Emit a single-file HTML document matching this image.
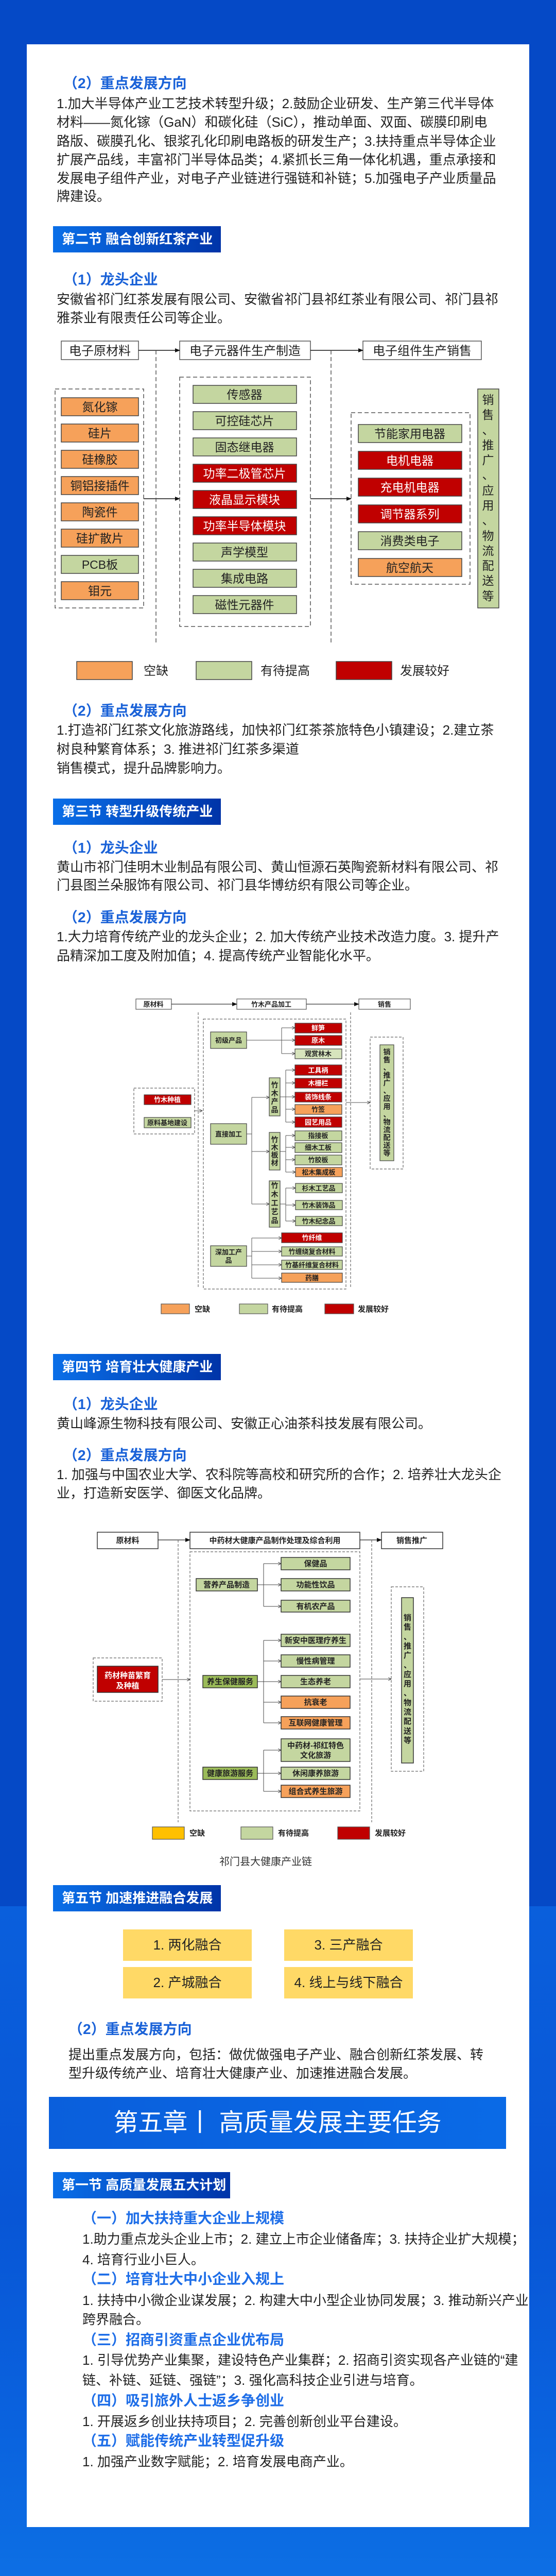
<!DOCTYPE html>
<html><head><meta charset="utf-8">
<style>
*{margin:0;padding:0;box-sizing:border-box}
html,body{width:1080px;height:5003px;overflow:hidden}
body{position:relative;font-family:"Liberation Sans","Noto Sans CJK SC",sans-serif;
background:linear-gradient(180deg,#0549c6 0,#0549c6 3700px,#0a5fdc 3700px,#0856d6 4300px,#0a62de 4700px,#0d6fe4 5003px);}
.card{position:absolute;left:52px;top:86px;width:976px;height:4819px;background:#fff}
.t{position:absolute;font-size:26px;line-height:36px;color:#222;white-space:nowrap}
.h{position:absolute;font-size:28px;line-height:36px;color:#1a62d8;font-weight:bold;white-space:nowrap}
.s{position:absolute;height:51px;background:linear-gradient(90deg,#0a6fe8,#0034a8);color:#fff;font-weight:bold;font-size:26px;line-height:51px;padding-left:17px;white-space:nowrap}
.y{position:absolute;width:250px;height:61px;background:#ffd966;font-size:26px;line-height:61px;text-align:center;color:#222}
svg{position:absolute;left:0;top:0;display:block;overflow:hidden}
svg text{font-family:"Liberation Sans","Noto Sans CJK SC",sans-serif}
</style></head><body>
<div class="card"></div>

<div class="h" style="left:123px;top:144px">（2）重点发展方向</div>
<div class="t" style="left:110px;top:183px">1.加大半导体产业工艺技术转型升级；2.鼓励企业研发、生产第三代半导体</div>
<div class="t" style="left:110px;top:219px">材料——氮化镓（GaN）和碳化硅（SiC），推动单面、双面、碳膜印刷电</div>
<div class="t" style="left:110px;top:256px">路版、碳膜孔化、银浆孔化印刷电路板的研发生产；3.扶持重点半导体企业</div>
<div class="t" style="left:110px;top:292px">扩展产品线，丰富祁门半导体品类；4.紧抓长三角一体化机遇，重点承接和</div>
<div class="t" style="left:110px;top:328px">发展电子组件产业，对电子产业链进行强链和补链；5.加强电子产业质量品</div>
<div class="t" style="left:110px;top:363px">牌建设。</div>

<div class="s" style="left:103px;top:439px;width:326px">第二节 融合创新红茶产业</div>
<div class="h" style="left:123px;top:525px">（1）龙头企业</div>
<div class="t" style="left:110px;top:563px">安徽省祁门红茶发展有限公司、安徽省祁门县祁红茶业有限公司、祁门县祁</div>
<div class="t" style="left:110px;top:599px">雅茶业有限责任公司等企业。</div>

<div class="h" style="left:123px;top:1362px">（2）重点发展方向</div>
<div class="t" style="left:110px;top:1399px">1.打造祁门红茶文化旅游路线，加快祁门红茶茶旅特色小镇建设；2.建立茶</div>
<div class="t" style="left:110px;top:1436px">树良种繁育体系；3. 推进祁门红茶多渠道</div>
<div class="t" style="left:110px;top:1473px">销售模式，提升品牌影响力。</div>

<div class="s" style="left:103px;top:1550px;width:326px">第三节 转型升级传统产业</div>
<div class="h" style="left:123px;top:1628px">（1）龙头企业</div>
<div class="t" style="left:110px;top:1665px">黄山市祁门佳明木业制品有限公司、黄山恒源石英陶瓷新材料有限公司、祁</div>
<div class="t" style="left:110px;top:1700px">门县图兰朵服饰有限公司、祁门县华博纺织有限公司等企业。</div>
<div class="h" style="left:123px;top:1763px">（2）重点发展方向</div>
<div class="t" style="left:110px;top:1800px">1.大力培育传统产业的龙头企业；2. 加大传统产业技术改造力度。3. 提升产</div>
<div class="t" style="left:110px;top:1837px">品精深加工度及附加值；4. 提高传统产业智能化水平。</div>

<div class="s" style="left:103px;top:2628px;width:326px">第四节 培育壮大健康产业</div>
<div class="h" style="left:123px;top:2708px">（1）龙头企业</div>
<div class="t" style="left:110px;top:2745px">黄山峰源生物科技有限公司、安徽正心油茶科技发展有限公司。</div>
<div class="h" style="left:123px;top:2807px">（2）重点发展方向</div>
<div class="t" style="left:110px;top:2844px">1. 加强与中国农业大学、农科院等高校和研究所的合作；2. 培养壮大龙头企</div>
<div class="t" style="left:110px;top:2880px">业，打造新安医学、御医文化品牌。</div>

<div style="position:absolute;left:0;width:1032px;top:3600px;text-align:center;font-size:20px;line-height:28px;color:#333">祁门县大健康产业链</div>

<div class="s" style="left:103px;top:3659px;width:326px">第五节 加速推进融合发展</div>
<div class="y" style="left:239px;top:3745px">1. 两化融合</div>
<div class="y" style="left:552px;top:3745px">3. 三产融合</div>
<div class="y" style="left:239px;top:3818px">2. 产城融合</div>
<div class="y" style="left:552px;top:3818px">4. 线上与线下融合</div>
<div class="h" style="left:133px;top:3921px">（2）重点发展方向</div>
<div class="t" style="left:133px;top:3970px">提出重点发展方向，包括：做优做强电子产业、融合创新红茶发展、转</div>
<div class="t" style="left:133px;top:4006px">型升级传统产业、培育壮大健康产业、加速推进融合发展。</div>

<div style="position:absolute;left:95px;top:4070px;width:888px;height:101px;background:linear-gradient(90deg,#0a5fdc,#0a6ae6);color:#fff;font-size:48px;line-height:101px;text-align:center;white-space:nowrap">第五章丨 高质量发展主要任务</div>
<div class="s" style="left:103px;top:4216px;width:344px">第一节 高质量发展五大计划</div>
<div class="h" style="left:160px;top:4288px;color:#1e6ee8">（一）加大扶持重大企业上规模</div>
<div class="t" style="left:160px;top:4328px">1.助力重点龙头企业上市；2. 建立上市企业储备库；3. 扶持企业扩大规模；</div>
<div class="t" style="left:160px;top:4368px">4. 培育行业小巨人。</div>
<div class="h" style="left:160px;top:4406px;color:#1e6ee8">（二）培育壮大中小企业入规上</div>
<div class="t" style="left:160px;top:4447px">1. 扶持中小微企业谋发展；2. 构建大中小型企业协同发展；3. 推动新兴产业</div>
<div class="t" style="left:160px;top:4484px">跨界融合。</div>
<div class="h" style="left:160px;top:4524px;color:#1e6ee8">（三）招商引资重点企业优布局</div>
<div class="t" style="left:160px;top:4563px">1. 引导优势产业集聚，建设特色产业集群；2. 招商引资实现各产业链的“建</div>
<div class="t" style="left:160px;top:4602px">链、补链、延链、强链”；3. 强化高科技企业引进与培育。</div>
<div class="h" style="left:160px;top:4642px;color:#1e6ee8">（四）吸引旅外人士返乡争创业</div>
<div class="t" style="left:160px;top:4682px">1. 开展返乡创业扶持项目；2. 完善创新创业平台建设。</div>
<div class="h" style="left:160px;top:4720px;color:#1e6ee8">（五）赋能传统产业转型促升级</div>
<div class="t" style="left:160px;top:4760px">1. 加强产业数字赋能；2. 培育发展电商产业。</div>

<svg width="1080" height="5000" viewBox="0 0 1080 5000">
<defs>
<marker id="a" markerWidth="10" markerHeight="8" refX="9" refY="4" orient="auto" markerUnits="userSpaceOnUse"><path d="M0,0 L10,4 L0,8 z" fill="#111"/></marker>
<marker id="b" markerWidth="7" markerHeight="6" refX="6" refY="3" orient="auto" markerUnits="userSpaceOnUse"><path d="M0,0 L6,3 L0,6" fill="none" stroke="#444" stroke-width="1"/></marker>
</defs>

<!-- ===== Diagram 1 ===== -->
<g stroke="#555" stroke-width="1.5">
<rect x="119" y="662" width="150" height="36" fill="#fff"/>
<rect x="349" y="662" width="254" height="36" fill="#fff"/>
<rect x="705" y="662" width="230" height="36" fill="#fff"/>
</g>
<g font-size="24" text-anchor="middle" fill="#222">
<text x="194" y="689">电子原材料</text>
<text x="476" y="689">电子元器件生产制造</text>
<text x="820" y="689">电子组件生产销售</text>
</g>
<g stroke="#111" stroke-width="1.5" fill="none">
<line x1="269" y1="680" x2="349" y2="680" marker-end="url(#a)"/>
<line x1="603" y1="680" x2="705" y2="680" marker-end="url(#a)"/>
<line x1="279" y1="968" x2="349" y2="968" marker-end="url(#a)"/>
<line x1="603" y1="968" x2="682" y2="968" marker-end="url(#a)"/>
</g>
<g stroke="#555" stroke-width="1.5" fill="none" stroke-dasharray="8,5">
<line x1="303" y1="680" x2="303" y2="1249"/>
<line x1="643" y1="680" x2="643" y2="1249"/>
<rect x="107" y="755" width="172" height="425"/>
<rect x="349" y="732" width="254" height="484"/>
<rect x="682" y="801" width="231" height="333"/>
</g>
<g stroke="#444" stroke-width="1.5">
<rect x="119" y="772" width="150" height="35" fill="#f6a15a"/>
<rect x="119" y="823" width="150" height="35" fill="#f6a15a"/>
<rect x="119" y="874" width="150" height="35" fill="#f6a15a"/>
<rect x="119" y="925" width="150" height="35" fill="#f6a15a"/>
<rect x="119" y="976" width="150" height="35" fill="#f6a15a"/>
<rect x="119" y="1027" width="150" height="35" fill="#f6a15a"/>
<rect x="119" y="1078" width="150" height="35" fill="#c4d6a0"/>
<rect x="119" y="1129" width="150" height="35" fill="#f6a15a"/>

<rect x="375" y="748" width="201" height="35" fill="#c4d6a0"/>
<rect x="375" y="799" width="201" height="35" fill="#c4d6a0"/>
<rect x="375" y="850" width="201" height="35" fill="#c4d6a0"/>
<rect x="375" y="901" width="201" height="35" fill="#c00000"/>
<rect x="375" y="952" width="201" height="35" fill="#c00000"/>
<rect x="375" y="1003" width="201" height="35" fill="#c00000"/>
<rect x="375" y="1054" width="201" height="35" fill="#c4d6a0"/>
<rect x="375" y="1105" width="201" height="35" fill="#c4d6a0"/>
<rect x="375" y="1156" width="201" height="35" fill="#c4d6a0"/>

<rect x="696" y="824" width="201" height="35" fill="#c4d6a0"/>
<rect x="696" y="876" width="201" height="35" fill="#c00000"/>
<rect x="696" y="928" width="201" height="35" fill="#c00000"/>
<rect x="696" y="980" width="201" height="35" fill="#c00000"/>
<rect x="696" y="1032" width="201" height="35" fill="#c4d6a0"/>
<rect x="696" y="1084" width="201" height="35" fill="#f6a15a"/>

<rect x="928" y="755" width="41" height="425" fill="#c4d6a0"/>
</g>
<g font-size="23" text-anchor="middle" fill="#222">
<text x="194" y="798">氮化镓</text>
<text x="194" y="849">硅片</text>
<text x="194" y="900">硅橡胶</text>
<text x="194" y="951">铜铝接插件</text>
<text x="194" y="1002">陶瓷件</text>
<text x="194" y="1053">硅扩散片</text>
<text x="194" y="1104">PCB板</text>
<text x="194" y="1155">钼元</text>
<text x="475" y="774">传感器</text>
<text x="475" y="825">可控硅芯片</text>
<text x="475" y="876">固态继电器</text>
<text x="475" y="927" fill="#fff">功率二极管芯片</text>
<text x="475" y="978" fill="#fff">液晶显示模块</text>
<text x="475" y="1029" fill="#fff">功率半导体模块</text>
<text x="475" y="1080">声学模型</text>
<text x="475" y="1131">集成电路</text>
<text x="475" y="1182">磁性元器件</text>
<text x="796" y="850">节能家用电器</text>
<text x="796" y="902" fill="#fff">电机电器</text>
<text x="796" y="954" fill="#fff">充电机电器</text>
<text x="796" y="1006" fill="#fff">调节器系列</text>
<text x="796" y="1058">消费类电子</text>
<text x="796" y="1110">航空航天</text>
</g>
<g font-size="23" text-anchor="middle" fill="#222">
<text x="948" y="784">销</text><text x="948" y="813">售</text><text x="948" y="843">、</text><text x="948" y="872">推</text><text x="948" y="901">广</text><text x="948" y="930">、</text><text x="948" y="960">应</text><text x="948" y="989">用</text><text x="948" y="1018">、</text><text x="948" y="1048">物</text><text x="948" y="1077">流</text><text x="948" y="1106">配</text><text x="948" y="1135">送</text><text x="948" y="1165">等</text>
</g>
<g stroke="#444" stroke-width="1.5">
<rect x="149" y="1284" width="108" height="35" fill="#f6a15a"/>
<rect x="381" y="1284" width="108" height="35" fill="#c4d6a0"/>
<rect x="653" y="1284" width="108" height="35" fill="#c00000"/>
</g>
<g font-size="24" fill="#222">
<text x="279" y="1310">空缺</text><text x="506" y="1310">有待提高</text><text x="777" y="1310">发展较好</text>
</g>

<!-- ===== Diagram 2 ===== -->
<g stroke="#555" stroke-width="1.2" fill="#fff">
<rect x="264" y="1939" width="69" height="20"/>
<rect x="460" y="1939" width="135" height="20"/>
<rect x="697" y="1939" width="100" height="20"/>
</g>
<g font-size="13" font-weight="bold" text-anchor="middle" fill="#222">
<text x="298" y="1954">原材料</text><text x="527" y="1954">竹木产品加工</text><text x="747" y="1954">销售</text>
</g>
<g stroke="#333" stroke-width="1.2" fill="none">
<line x1="333" y1="1949" x2="460" y2="1949" marker-end="url(#a)"/>
<line x1="595" y1="1949" x2="697" y2="1949" marker-end="url(#a)"/>
</g>
<g stroke="#666" stroke-width="1.2" fill="none" stroke-dasharray="5,3">
<line x1="385" y1="1965" x2="385" y2="2499"/>
<line x1="681" y1="1965" x2="681" y2="2499"/>
<rect x="395" y="1978" width="277" height="524"/>
<rect x="260" y="2112" width="118" height="89"/>
<rect x="719" y="2013" width="64" height="256"/>
</g>
<g stroke="#555" stroke-width="1" fill="none">
<line x1="378" y1="2156" x2="393" y2="2156" marker-end="url(#b)"/>
<line x1="672" y1="2140" x2="719" y2="2140" marker-end="url(#b)"/>
<line x1="479" y1="2019" x2="547" y2="2019"/>
<line x1="547" y1="1995" x2="547" y2="2045"/>
<line x1="547" y1="1995" x2="573" y2="1995" marker-end="url(#b)"/>
<line x1="547" y1="2019" x2="573" y2="2019" marker-end="url(#b)"/>
<line x1="547" y1="2045" x2="573" y2="2045" marker-end="url(#b)"/>
<line x1="479" y1="2201" x2="489" y2="2201"/>
<line x1="489" y1="2130" x2="489" y2="2337"/>
<line x1="489" y1="2130" x2="523" y2="2130" marker-end="url(#b)"/>
<line x1="489" y1="2235" x2="523" y2="2235" marker-end="url(#b)"/>
<line x1="489" y1="2337" x2="523" y2="2337" marker-end="url(#b)"/>
<line x1="544" y1="2129" x2="555" y2="2129"/>
<line x1="555" y1="2077" x2="555" y2="2178"/>
<line x1="555" y1="2077" x2="573" y2="2077" marker-end="url(#b)"/>
<line x1="555" y1="2102" x2="573" y2="2102" marker-end="url(#b)"/>
<line x1="555" y1="2129" x2="573" y2="2129" marker-end="url(#b)"/>
<line x1="555" y1="2153" x2="573" y2="2153" marker-end="url(#b)"/>
<line x1="555" y1="2178" x2="573" y2="2178" marker-end="url(#b)"/>
<line x1="544" y1="2235" x2="555" y2="2235"/>
<line x1="555" y1="2204" x2="555" y2="2275"/>
<line x1="555" y1="2204" x2="573" y2="2204" marker-end="url(#b)"/>
<line x1="555" y1="2227" x2="573" y2="2227" marker-end="url(#b)"/>
<line x1="555" y1="2251" x2="573" y2="2251" marker-end="url(#b)"/>
<line x1="555" y1="2275" x2="574" y2="2275" marker-end="url(#b)"/>
<line x1="544" y1="2337" x2="555" y2="2337"/>
<line x1="555" y1="2306" x2="555" y2="2370"/>
<line x1="555" y1="2306" x2="574" y2="2306" marker-end="url(#b)"/>
<line x1="555" y1="2339" x2="574" y2="2339" marker-end="url(#b)"/>
<line x1="555" y1="2370" x2="574" y2="2370" marker-end="url(#b)"/>
<line x1="479" y1="2438" x2="489" y2="2438"/>
<line x1="489" y1="2403" x2="489" y2="2481"/>
<line x1="489" y1="2403" x2="547" y2="2403" marker-end="url(#b)"/>
<line x1="489" y1="2429" x2="547" y2="2429" marker-end="url(#b)"/>
<line x1="489" y1="2455" x2="547" y2="2455" marker-end="url(#b)"/>
<line x1="489" y1="2481" x2="547" y2="2481" marker-end="url(#b)"/>
</g>
<g stroke="#444" stroke-width="1.2">
<rect x="409" y="2003" width="70" height="32" fill="#c4d6a0"/>
<rect x="409" y="2181" width="70" height="40" fill="#c4d6a0"/>
<rect x="409" y="2418" width="70" height="40" fill="#c4d6a0"/>
<rect x="523" y="2092" width="21" height="74" fill="#c4d6a0"/>
<rect x="523" y="2198" width="21" height="73" fill="#c4d6a0"/>
<rect x="523" y="2292" width="21" height="90" fill="#c4d6a0"/>
<rect x="280" y="2125" width="91" height="19" fill="#c00000"/>
<rect x="280" y="2169" width="91" height="20" fill="#c4d6a0"/>
<rect x="738" y="2028" width="27" height="225" fill="#c4d6a0"/>
<rect x="573" y="1986" width="91" height="19" fill="#c00000"/>
<rect x="573" y="2010" width="91" height="19" fill="#c00000"/>
<rect x="573" y="2036" width="91" height="19" fill="#d7e4bd"/>
<rect x="573" y="2067" width="91" height="20" fill="#c00000"/>
<rect x="573" y="2093" width="91" height="19" fill="#c00000"/>
<rect x="573" y="2120" width="91" height="19" fill="#c00000"/>
<rect x="573" y="2144" width="91" height="19" fill="#f6a15a"/>
<rect x="573" y="2168" width="91" height="20" fill="#c00000"/>
<rect x="573" y="2195" width="91" height="19" fill="#c4d6a0"/>
<rect x="573" y="2218" width="91" height="19" fill="#c4d6a0"/>
<rect x="573" y="2242" width="91" height="19" fill="#c4d6a0"/>
<rect x="574" y="2266" width="91" height="18" fill="#f6a15a"/>
<rect x="574" y="2297" width="91" height="18" fill="#c4d6a0"/>
<rect x="574" y="2330" width="91" height="18" fill="#c4d6a0"/>
<rect x="574" y="2361" width="91" height="18" fill="#c4d6a0"/>
<rect x="547" y="2393" width="118" height="19" fill="#c00000"/>
<rect x="547" y="2420" width="118" height="18" fill="#c4d6a0"/>
<rect x="547" y="2446" width="118" height="18" fill="#c4d6a0"/>
<rect x="547" y="2471" width="118" height="18" fill="#f6a15a"/>
</g>
<g font-size="13" font-weight="bold" text-anchor="middle" fill="#222">
<text x="444" y="2024">初级产品</text>
<text x="444" y="2206">直接加工</text>
<text x="444" y="2435">深加工产</text><text x="444" y="2451">品</text>
<text x="325" y="2139" fill="#fff">竹木种植</text>
<text x="325" y="2184">原料基地建设</text>
<text x="618" y="2000" fill="#fff">鲜笋</text>
<text x="618" y="2024" fill="#fff">原木</text>
<text x="618" y="2050">观赏林木</text>
<text x="618" y="2082" fill="#fff">工具柄</text>
<text x="618" y="2107" fill="#fff">木栅栏</text>
<text x="618" y="2134" fill="#fff">装饰线条</text>
<text x="618" y="2158">竹签</text>
<text x="618" y="2183" fill="#fff">园艺用品</text>
<text x="618" y="2209">指接板</text>
<text x="618" y="2232">细木工板</text>
<text x="618" y="2256">竹胶板</text>
<text x="619" y="2280">松木集成板</text>
<text x="619" y="2311">杉木工艺品</text>
<text x="619" y="2344">竹木装饰品</text>
<text x="619" y="2375">竹木纪念品</text>
<text x="606" y="2407" fill="#fff">竹纤维</text>
<text x="606" y="2434">竹缠绕复合材料</text>
<text x="606" y="2460">竹基纤维复合材料</text>
<text x="606" y="2485">药膳</text>
</g>
<g font-size="14" font-weight="bold" text-anchor="middle" fill="#222">
<text x="533.5" y="2111">竹</text><text x="533.5" y="2127">木</text><text x="533.5" y="2143">产</text><text x="533.5" y="2159">品</text>
<text x="533.5" y="2217">竹</text><text x="533.5" y="2232">木</text><text x="533.5" y="2247">板</text><text x="533.5" y="2262">材</text>
<text x="533.5" y="2306">竹</text><text x="533.5" y="2323">木</text><text x="533.5" y="2340">工</text><text x="533.5" y="2357">艺</text><text x="533.5" y="2374">品</text>
<text x="751.5" y="2047">销</text><text x="751.5" y="2062">售</text><text x="751.5" y="2077">、</text><text x="751.5" y="2092">推</text><text x="751.5" y="2107">广</text><text x="751.5" y="2122">、</text><text x="751.5" y="2137">应</text><text x="751.5" y="2153">用</text><text x="751.5" y="2168">、</text><text x="751.5" y="2183">物</text><text x="751.5" y="2198">流</text><text x="751.5" y="2213">配</text><text x="751.5" y="2228">送</text><text x="751.5" y="2243">等</text>
</g>
<g stroke="#555" stroke-width="1.2">
<rect x="313" y="2531" width="55" height="19" fill="#f6a15a"/>
<rect x="465" y="2531" width="55" height="19" fill="#c4d6a0"/>
<rect x="631" y="2531" width="56" height="19" fill="#c00000"/>
</g>
<g font-size="15" font-weight="bold" fill="#222">
<text x="378" y="2546">空缺</text><text x="528" y="2546">有待提高</text><text x="695" y="2546">发展较好</text>
</g>

<!-- ===== Diagram 3 ===== -->
<g stroke="#333" stroke-width="1.5" fill="#fff">
<rect x="189" y="2974" width="118" height="32"/>
<rect x="369" y="2974" width="330" height="32"/>
<rect x="741" y="2974" width="119" height="32"/>
</g>
<g font-size="15" font-weight="bold" text-anchor="middle" fill="#222">
<text x="248" y="2995">原材料</text><text x="534" y="2995">中药材大健康产品制作处理及综合利用</text><text x="800" y="2995">销售推广</text>
</g>
<g stroke="#222" stroke-width="1.2" fill="none">
<line x1="307" y1="2989" x2="369" y2="2989" marker-end="url(#a)"/>
<line x1="699" y1="2989" x2="741" y2="2989" marker-end="url(#a)"/>
</g>
<g stroke="#666" stroke-width="1.2" fill="none" stroke-dasharray="5,3">
<line x1="346" y1="2989" x2="346" y2="3537"/>
<line x1="722" y1="2989" x2="722" y2="3537"/>
<rect x="369" y="3012" width="330" height="503"/>
<rect x="181" y="3218" width="134" height="84"/>
<rect x="760" y="3080" width="63" height="358"/>
</g>
<g stroke="#444" stroke-width="1" fill="none">
<line x1="315" y1="3260" x2="369" y2="3260" marker-end="url(#b)"/>
<line x1="699" y1="3259" x2="760" y2="3259" marker-end="url(#b)"/>
<line x1="500" y1="3076" x2="512" y2="3076"/>
<line x1="512" y1="3035" x2="512" y2="3118"/>
<line x1="512" y1="3035" x2="546" y2="3035" marker-end="url(#b)"/>
<line x1="512" y1="3076" x2="546" y2="3076" marker-end="url(#b)"/>
<line x1="512" y1="3118" x2="546" y2="3118" marker-end="url(#b)"/>
<line x1="500" y1="3264" x2="512" y2="3264"/>
<line x1="512" y1="3184" x2="512" y2="3344"/>
<line x1="512" y1="3184" x2="546" y2="3184" marker-end="url(#b)"/>
<line x1="512" y1="3224" x2="546" y2="3224" marker-end="url(#b)"/>
<line x1="512" y1="3264" x2="546" y2="3264" marker-end="url(#b)"/>
<line x1="512" y1="3304" x2="546" y2="3304" marker-end="url(#b)"/>
<line x1="512" y1="3344" x2="546" y2="3344" marker-end="url(#b)"/>
<line x1="500" y1="3442" x2="512" y2="3442"/>
<line x1="512" y1="3397" x2="512" y2="3477"/>
<line x1="512" y1="3397" x2="546" y2="3397" marker-end="url(#b)"/>
<line x1="512" y1="3442" x2="546" y2="3442" marker-end="url(#b)"/>
<line x1="512" y1="3477" x2="546" y2="3477" marker-end="url(#b)"/>
</g>
<g stroke="#333" stroke-width="1.5">
<rect x="189" y="3234" width="118" height="51" fill="#c00000"/>
<rect x="381" y="3064" width="119" height="24" fill="#c4d6a0"/>
<rect x="394" y="3252" width="106" height="24" fill="#9bbb59"/>
<rect x="394" y="3430" width="106" height="24" fill="#9bbb59"/>
<rect x="546" y="3023" width="134" height="24" fill="#c4d6a0"/>
<rect x="546" y="3064" width="134" height="24" fill="#c4d6a0"/>
<rect x="546" y="3106" width="134" height="23" fill="#c4d6a0"/>
<rect x="546" y="3172" width="134" height="24" fill="#c4d6a0"/>
<rect x="546" y="3212" width="134" height="24" fill="#c4d6a0"/>
<rect x="546" y="3252" width="134" height="24" fill="#c4d6a0"/>
<rect x="546" y="3292" width="134" height="24" fill="#f6a15a"/>
<rect x="546" y="3332" width="134" height="24" fill="#f6a15a"/>
<rect x="546" y="3375" width="134" height="44" fill="#c4d6a0"/>
<rect x="546" y="3430" width="134" height="24" fill="#c4d6a0"/>
<rect x="546" y="3465" width="134" height="24" fill="#f6a15a"/>
<rect x="780" y="3101" width="23" height="321" fill="#c4d6a0"/>
</g>
<g font-size="15" font-weight="bold" text-anchor="middle" fill="#222">
<text x="248" y="3257" fill="#fff">药材种苗繁育</text><text x="248" y="3277" fill="#fff">及种植</text>
<text x="440" y="3081">营养产品制造</text>
<text x="447" y="3269">养生保健服务</text>
<text x="447" y="3447">健康旅游服务</text>
<text x="613" y="3040">保健品</text>
<text x="613" y="3081">功能性饮品</text>
<text x="613" y="3123">有机农产品</text>
<text x="613" y="3189">新安中医理疗养生</text>
<text x="613" y="3229">慢性病管理</text>
<text x="613" y="3269">生态养老</text>
<text x="613" y="3309">抗衰老</text>
<text x="613" y="3349">互联网健康管理</text>
<text x="613" y="3393">中药材-祁红特色</text><text x="613" y="3412">文化旅游</text>
<text x="613" y="3447">休闲康养旅游</text>
<text x="613" y="3482">组合式养生旅游</text>
<text x="791.5" y="3145">销</text><text x="791.5" y="3163">售</text><text x="791.5" y="3182">、</text><text x="791.5" y="3200">推</text><text x="791.5" y="3218">广</text><text x="791.5" y="3237">、</text><text x="791.5" y="3255">应</text><text x="791.5" y="3273">用</text><text x="791.5" y="3291">、</text><text x="791.5" y="3310">物</text><text x="791.5" y="3328">流</text><text x="791.5" y="3346">配</text><text x="791.5" y="3365">送</text><text x="791.5" y="3383">等</text>
</g>
<g stroke="#555" stroke-width="1.2">
<rect x="296" y="3546" width="62" height="24" fill="#ffc000"/>
<rect x="468" y="3546" width="62" height="24" fill="#c4d6a0"/>
<rect x="656" y="3546" width="62" height="24" fill="#c00000"/>
</g>
<g font-size="15" font-weight="bold" fill="#222">
<text x="368" y="3563">空缺</text><text x="540" y="3563">有待提高</text><text x="728" y="3563">发展较好</text>
</g>
</svg>
</body></html>
